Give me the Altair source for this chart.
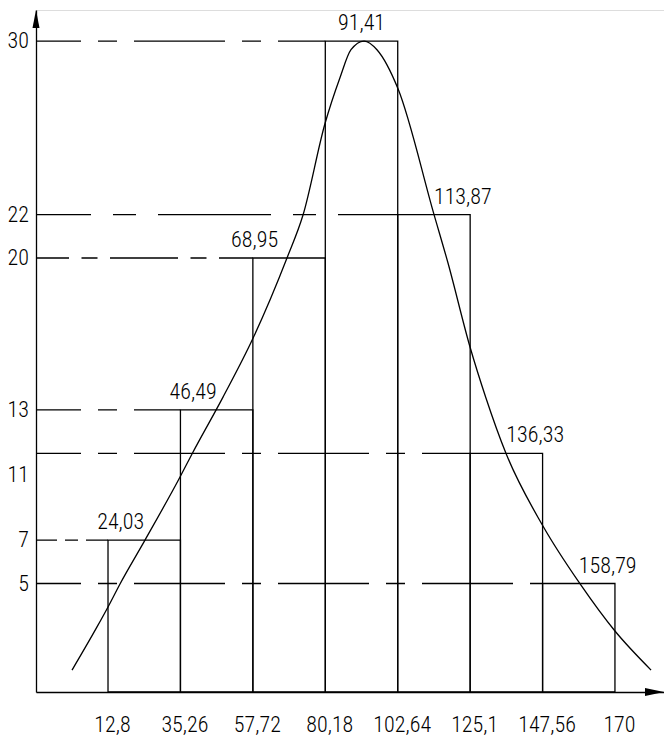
import altair as alt
import pandas as pd

# ---- data ----
bin_lo = [12.8, 35.26, 57.72, 80.18, 102.64, 125.1, 147.56]
bin_hi = [35.26, 57.72, 80.18, 102.64, 125.1, 147.56, 170]
mids = [24.03, 46.49, 68.95, 91.41, 113.87, 136.33, 158.79]
counts = [7, 13, 20, 30, 22, 11, 5]
x_ticks = [12.8, 35.26, 57.72, 80.18, 102.64, 125.1, 147.56, 170]
y_tick_values = [30, 22, 20, 13, 10, 7, 5]
y_tick_labels = ["30", "22", "20", "13", "11", "7", "5"]
curve_x = [1.64, 9.39, 12.8, 16.52, 24.27, 35.13, 38.85, 48.46, 57.76, 68.3,
           73.27, 80.09, 84.7, 88.15, 92.2, 96.2, 102.73, 113.9, 118.23, 125.06,
           130.0, 136.2, 147.67, 159.2, 170.0, 181.2]
curve_y = [1.01, 3.0, 3.92, 4.98, 7.0, 9.91, 10.97, 13.59, 16.3, 20.0,
           21.98, 26.2, 28.3, 29.6, 30.0, 29.6, 27.8, 22.0, 19.77, 15.9,
           13.55, 11.0, 7.65, 4.98, 2.81, 1.01]

# ---- styles ----
W, H = 628, 682
X_MIN = -9.53
X_MAX = X_MIN + W / 3.2248
Y_MIN, Y_MAX = 0, 31.43
FONT = "Roboto Condensed, Liberation Sans Narrow, DejaVu Sans Condensed, sans-serif"
FS = 22
FW = 300
LW = 1.3
dash_styles = {  # per count value: (dash pattern, offset)
    30: ([91, 17, 19, 17], 46),
    22: ([113, 22, 23, 22], 58),
    20: ([68, 12.5, 16, 12.5], 35),
    13: ([91, 17, 19, 17], 46),
    11: ([91, 17, 19, 17], 46),
    7: ([45, 8, 13, 8], 24),
    5: ([91, 17, 19, 17], 46),
}
label_align = ["right", "right", "right", "center", "left", "left", "left"]
label_dx = [0, 0, -11, 0, 0, 0, 0]

bars = pd.DataFrame({"lo": bin_lo, "hi": bin_hi, "mid": mids, "n": counts,
                     "i": list(range(len(counts)))})
curve = pd.DataFrame({"x": curve_x, "y": curve_y})
yt = pd.DataFrame({"v": y_tick_values, "t": y_tick_labels})

xs = alt.Scale(domain=[X_MIN, X_MAX], nice=False, zero=False)
ys = alt.Scale(domain=[Y_MIN, Y_MAX], nice=False, zero=False)
x_axis = alt.Axis(values=x_ticks, ticks=False, grid=False, title=None,
                  domain=True, domainColor="black", domainWidth=LW,
                  labelExpr="replace(toString(datum.value), '.', ',')",
                  labelFont=FONT, labelFontSize=FS, labelFontWeight=FW,
                  labelColor="black", labelPadding=22, labelOffset=4,
                  labelFlush=False, labelOverlap=False)
y_axis = alt.Axis(labels=False, ticks=False, grid=False, title=None,
                  domain=True, domainColor="black", domainWidth=LW)


def X(f):
    return alt.X(f, type="quantitative", scale=xs, axis=x_axis)


def Y(f):
    return alt.Y(f, type="quantitative", scale=ys, axis=y_axis)


layers = []

# dashed guide lines from the y axis to each bar
for i, n in enumerate(counts):
    dash, off = dash_styles[n]
    layers.append(
        alt.Chart(bars)
        .transform_filter(alt.datum.i == i)
        .transform_calculate(x0=str(X_MIN))
        .mark_rule(color="black", strokeWidth=LW, strokeDash=dash,
                   strokeDashOffset=off)
        .encode(x=X("x0"), x2="lo:Q", y=Y("n"))
    )

# histogram bars
layers.append(
    alt.Chart(bars)
    .mark_rect(fillOpacity=0, stroke="black", strokeWidth=LW)
    .encode(x=X("lo"), x2="hi:Q", y=Y("n"), y2=alt.datum(0))
)

# curve
layers.append(
    alt.Chart(curve)
    .mark_line(color="black", strokeWidth=LW, interpolate="monotone")
    .encode(x=X("x"), y=Y("y"))
)

# bar midpoint labels
for i in range(len(mids)):
    layers.append(
        alt.Chart(bars)
        .transform_filter(alt.datum.i == i)
        .transform_calculate(lab="replace(toString(datum.mid), '.', ',')")
        .mark_text(font=FONT, fontSize=FS, fontWeight=FW, color="black",
                   align=label_align[i], baseline="alphabetic", dy=-11,
                   dx=label_dx[i])
        .encode(x=X("mid"), y=Y("n"), text="lab:N")
    )

# y tick labels
layers.append(
    alt.Chart(yt)
    .mark_text(font=FONT, fontSize=FS, fontWeight=FW, color="black",
               align="right", baseline="middle")
    .encode(x=alt.value(-7), y=Y("v"), text="t:N")
)

# arrow heads
one = pd.DataFrame({"a": [0]})
layers.append(
    alt.Chart(one)
    .mark_point(shape="M0,-1L0.39,1L-0.39,1Z", filled=True, size=324,
                color="black", opacity=1, strokeWidth=0)
    .encode(x=alt.value(0), y=alt.value(9))
)
layers.append(
    alt.Chart(one)
    .mark_point(shape="M1,0L-1,-0.42L-1,0.42Z", filled=True, size=361,
                color="black", opacity=1, strokeWidth=0)
    .encode(x=alt.value(W - 9.5), y=alt.value(H))
)

chart = (
    alt.layer(*layers)
    .properties(width=W, height=H,
                autosize=alt.AutoSizeParams(type="none"),
                padding={"left": 28, "top": 2, "right": 0, "bottom": 43})
    .configure_view(stroke=None)
    .configure(background="white")
)

chart.save("out.html", embed_options={"renderer": "svg", "actions": False})
